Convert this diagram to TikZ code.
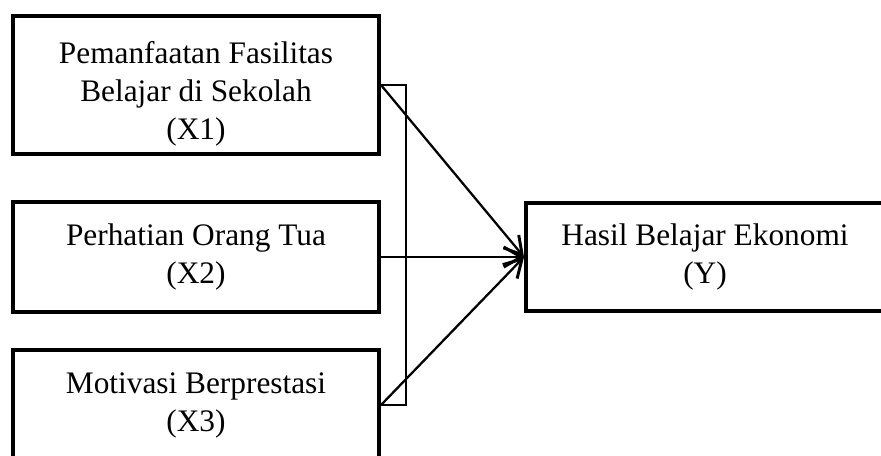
\documentclass[tikz,border=0pt]{standalone}
\usepackage{fontspec}
\setmainfont{Liberation Serif}
\usetikzlibrary{arrows.meta}
\begin{document}
\begin{tikzpicture}[x=0.75pt,y=-0.75pt,
  varbox/.style={draw=black,line width=3pt,inner sep=0pt,align=center,
    font=\fontsize{23.5}{28.5}\selectfont},
  link/.style={line width=1.7pt,-{Straight Barb[length=13pt,width=15pt,line width=2.2pt]}},
  bracket/.style={line width=0.8pt}]
\clip (0,0) rectangle (881,455);
\node[varbox,minimum width=274.5pt,minimum height=103.5pt] (x1) at (196,85)
  {\rule{0pt}{30pt}Pemanfaatan Fasilitas\\Belajar di Sekolah\\(X1)};
\node[varbox,minimum width=274.5pt,minimum height=82.5pt] (x2) at (196,257)
  {Perhatian Orang Tua\\(X2)};
\node[varbox,minimum width=274.5pt,minimum height=82.5pt] (x3) at (196,405)
  {Motivasi Berprestasi\\(X3)};
\node[varbox,minimum width=268.5pt,minimum height=81pt] (y) at (705,257)
  {Hasil Belajar Ekonomi\\(Y)};
\draw[bracket] (x1.east) -- ++(25,0) |- (x3.east);
\draw[link] (x1.east) -- (y.west);
\draw[link] (x2.east) -- (y.west);
\draw[link] (x3.east) -- (y.west);
\end{tikzpicture}
\end{document}
